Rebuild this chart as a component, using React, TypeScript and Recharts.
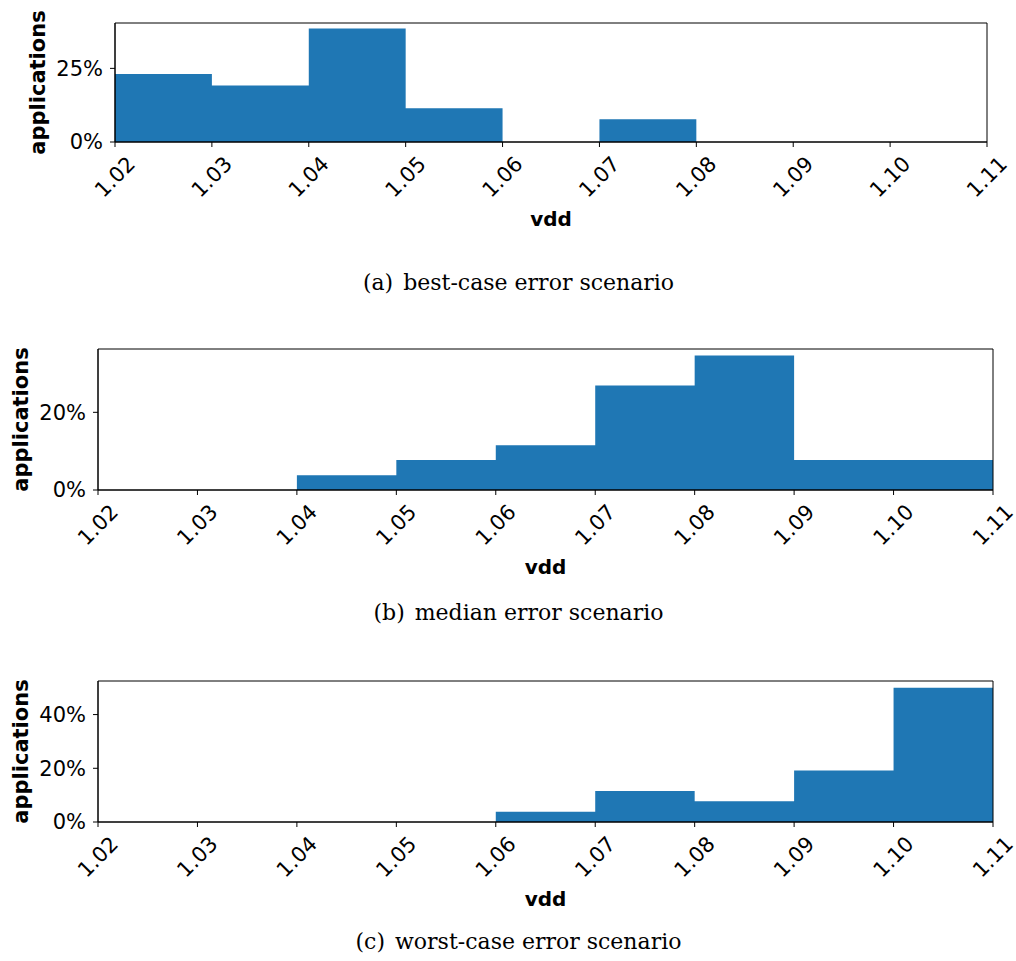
import React from 'react';
import { AreaChart, Area, XAxis, YAxis, ReferenceArea } from 'recharts';

const binEdges = [1.02, 1.03, 1.04, 1.05, 1.06, 1.07, 1.08, 1.09, 1.1, 1.11];
const bestCase = [23.1, 19.2, 38.5, 11.5, 0, 7.7, 0, 0, 0];
const medianCase = [0, 0, 3.8, 7.7, 11.5, 26.9, 34.6, 7.7, 7.7];
const worstCase = [0, 0, 0, 0, 3.8, 11.5, 7.7, 19.2, 50.0];

const bestTicks = [0, 25];
const medianTicks = [0, 20];
const worstTicks = [0, 20, 40];

const captionTags = ['(a)', '(b)', '(c)'];
const captionTexts = ['best-case error scenario', 'median error scenario', 'worst-case error scenario'];

const BLUE = '#1f77b4';
const SANS = '"DejaVu Sans", sans-serif';
const FS = 21;

function buildTable(values: number[]) {
  return binEdges.map((x, i) => ({ x, v: values[Math.min(i, values.length - 1)] }));
}

const XTick = (props: any) => {
  const { x, y, payload } = props;
  return (
    <g transform={`translate(${x},${y})`}>
      <text
        transform="rotate(-45)"
        textAnchor="middle"
        dominantBaseline="central"
        fontFamily={SANS}
        fontSize={FS}
        fill="#000"
      >
        {Number(payload.value).toFixed(2)}
      </text>
    </g>
  );
};

const XLabel = (props: any) => {
  const vb = props.viewBox || {};
  return (
    <text
      x={vb.x + vb.width / 2}
      y={vb.y + 77}
      textAnchor="middle"
      dominantBaseline="central"
      fontFamily={SANS}
      fontWeight="bold"
      fontSize={20}
      fill="#000"
    >
      vdd
    </text>
  );
};

const YLabel = (props: any) => {
  const vb = props.viewBox || {};
  const cx = vb.x + vb.width - 77;
  const cy = vb.y + vb.height / 2;
  return (
    <text
      x={cx}
      y={cy}
      transform={`rotate(-90, ${cx}, ${cy})`}
      textAnchor="middle"
      dominantBaseline="central"
      fontFamily={SANS}
      fontWeight="bold"
      fontSize={FS}
      fill="#000"
    >
      applications
    </text>
  );
};

type PanelProps = {
  values: number[];
  yMax: number;
  yTicks: number[];
  top: number;
  height: number;
  marginTop: number;
  left: number;
  right: number;
};

const Panel = ({ values, yMax, yTicks, top, height, marginTop, left, right }: PanelProps) => {
  const data = buildTable(values);
  return (
    <div style={{ position: 'absolute', left: 0, top }}>
      <AreaChart
        width={1016}
        height={height}
        data={data}
        margin={{ top: marginTop, right: 1016 - right, bottom: 8, left: 0 }}
        style={{ overflow: 'visible' }}
      >
        <XAxis
          type="number"
          dataKey="x"
          domain={[1.02, 1.11]}
          ticks={binEdges}
          interval={0}
          allowDataOverflow
          height={100}
          tickSize={5}
          tickMargin={30}
          tick={<XTick />}
          stroke="#000"
          tickLine={{ stroke: '#000' }}
          label={<XLabel />}
        />
        <YAxis
          type="number"
          domain={[0, yMax]}
          ticks={yTicks}
          allowDataOverflow
          width={left}
          tickSize={5}
          tickMargin={7}
          tickFormatter={(v: number) => `${v}%`}
          tick={{ fontFamily: SANS, fontSize: FS, fill: '#000' }}
          stroke="#000"
          tickLine={{ stroke: '#000' }}
          label={<YLabel />}
        />
        <Area
          type="stepAfter"
          dataKey="v"
          stroke="none"
          fill={BLUE}
          fillOpacity={1}
          isAnimationActive={false}
          dot={false}
          activeDot={false}
        />
        <ReferenceArea
          x1={1.02}
          x2={1.11}
          y1={0}
          y2={yMax}
          fill="none"
          stroke="#000"
          strokeWidth={1}
          ifOverflow="visible"
        />
      </AreaChart>
    </div>
  );
};

const Caption = ({ tag, text, y }: { tag: string; text: string; y: number }) => (
  <div
    style={{
      position: 'absolute',
      left: 0,
      width: 1037,
      top: y - 15,
      height: 30,
      lineHeight: '30px',
      textAlign: 'center',
      fontFamily: '"DejaVu Serif", serif',
      fontSize: 22,
      color: '#000',
      whiteSpace: 'pre',
    }}
  >
    <span style={{ marginRight: 10 }}>{tag}</span>
    {text}
  </div>
);

export default function App() {
  return (
    <div style={{ position: 'absolute', left: 0, top: 0, width: 1016, height: 961, background: '#fff', overflow: 'hidden' }}>
      <Panel values={bestCase} yMax={40.4} yTicks={bestTicks} top={0} height={250} marginTop={23} left={115} right={987} />
      <Caption tag={captionTags[0]} text={captionTexts[0]} y={283} />
      <Panel values={medianCase} yMax={36.3} yTicks={medianTicks} top={330} height={268} marginTop={19} left={98} right={993} />
      <Caption tag={captionTags[1]} text={captionTexts[1]} y={613} />
      <Panel values={worstCase} yMax={52.5} yTicks={worstTicks} top={660} height={270} marginTop={21} left={98} right={993} />
      <Caption tag={captionTags[2]} text={captionTexts[2]} y={942} />
    </div>
  );
}
